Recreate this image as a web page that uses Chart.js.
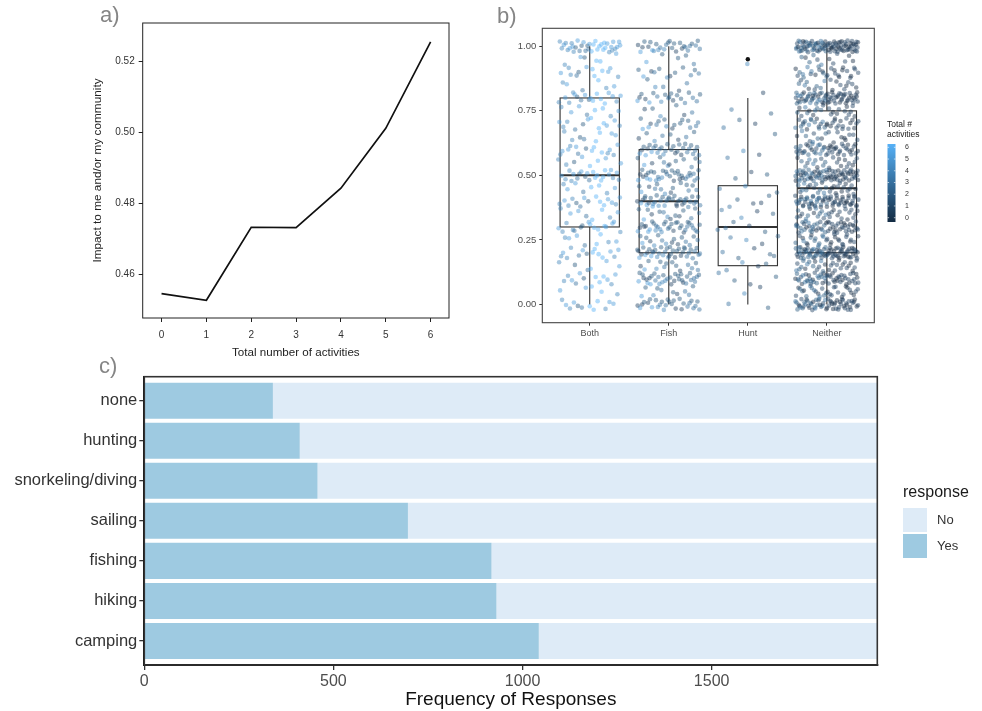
<!DOCTYPE html>
<html>
<head>
<meta charset="utf-8">
<script src="https://cdn.jsdelivr.net/npm/chart.js@4.4.1/dist/chart.umd.min.js"></script>
<style>
  html, body { margin: 0; padding: 0; background: #fff; }
  #wrap { position: relative; width: 982px; height: 711px; overflow: hidden; font-family: "Liberation Sans", Arial, sans-serif; }
  #wrap canvas { position: absolute; left: 0; top: 0; }
  .tag { position: absolute; font-size: 22px; line-height: 1; color: #858585; }
</style>
</head>
<body>
<div id="wrap">
  <canvas id="chartA" width="982" height="711"></canvas>
  <canvas id="chartB" width="982" height="711"></canvas>
  <canvas id="chartC" width="982" height="711"></canvas>
  <div class="tag" style="left:100px;top:4px">a)</div>
  <div class="tag" style="left:497px;top:5px">b)</div>
  <div class="tag" style="left:99px;top:355px">c)</div>
</div>
<script>
// ---- a) impacto vs número de actividades
const actCounts = [0, 1, 2, 3, 4, 5, 6];
const impactFit = [0.4546, 0.4527, 0.4733, 0.4732, 0.4843, 0.5012, 0.5256];
const impactTicks = [0.46, 0.48, 0.50, 0.52];

// ---- b) boxplots por grupo
const groups = ['Both', 'Fish', 'Hunt', 'Neither'];
const boxLow = [0, 0, 0, 0];
const boxQ1 = [0.30, 0.20, 0.15, 0.20];
const boxMed = [0.50, 0.40, 0.30, 0.45];
const boxQ3 = [0.80, 0.60, 0.46, 0.75];
const boxHigh = [1.00, 1.00, 0.80, 1.00];
const outliers = [[], [], [0.95], []];
const bTicks = [0, 0.25, 0.50, 0.75, 1.00];
// niveles de respuesta y cuántos puntos hay en cada uno (estimado a ojo)
const levels = [0, 0.05, 0.10, 0.15, 0.20, 0.25, 0.30, 0.35, 0.40, 0.45, 0.50,
                0.55, 0.60, 0.65, 0.70, 0.75, 0.80, 0.85, 0.90, 0.95, 1.00];
const countsBoth    = [12, 5, 12, 6, 14, 8, 16, 8, 15, 8, 22, 8, 14, 8, 12, 8, 18, 6, 12, 6, 36];
const countsFish    = [28, 10, 34, 14, 38, 16, 34, 14, 36, 14, 34, 12, 30, 8, 16, 6, 20, 5, 12, 5, 28];
const countsHunt    = [2, 2, 4, 4, 5, 4, 5, 4, 5, 3, 3, 1, 2, 1, 3, 2, 1, 0, 0, 1, 0];
const countsNeither = [62, 30, 55, 30, 80, 30, 55, 28, 65, 28, 75, 22, 50, 18, 35, 22, 70, 18, 28, 12, 95];
// total de actividades de los encuestados, repetido en ciclo
const actBoth    = [6, 5, 4, 5, 6, 3, 5, 4, 6, 2, 5, 4];
const actFish    = [2, 3, 1, 2, 4, 3, 2, 1, 3, 2, 5, 2];
const actHunt    = [2, 3, 1, 4, 2, 3, 1, 2];
const actNeither = [1, 0, 2, 1, 0, 1, 3, 0, 2, 1];
const legendTicks = [0, 1, 2, 3, 4, 5, 6];

// ---- c) frecuencia de respuestas
const activities = ['camping', 'hiking', 'fishing', 'sailing', 'snorkeling/diving', 'hunting', 'none'];
const yesCounts = [1043, 931, 918, 697, 458, 411, 340];
const noCounts  = [895, 1007, 1020, 1241, 1480, 1527, 1598];
const freqTicks = [0, 500, 1000, 1500];

const FONT = '"Liberation Sans", Arial, sans-serif';
Chart.defaults.font.family = FONT;
Chart.defaults.animation = false;
Chart.defaults.events = [];
Chart.defaults.plugins.legend.display = false;
Chart.defaults.plugins.tooltip.enabled = false;

const frame = {
  id: 'frame',
  afterDraw(chart, args, opts) {
    const { ctx, chartArea: a } = chart;
    ctx.save();
    ctx.strokeStyle = opts.color;
    ctx.lineWidth = opts.width;
    ctx.strokeRect(a.left, a.top, a.right - a.left, a.bottom - a.top);
    ctx.restore();
  }
};

function fixedTicks(list) {
  return scale => { scale.ticks = list.map(v => ({ value: v })); };
}

// ---------------- a)
new Chart(document.getElementById('chartA'), {
  type: 'line',
  data: {
    datasets: [{
      data: actCounts.map((n, i) => ({ x: n, y: impactFit[i] })),
      borderColor: '#111',
      borderWidth: 1.7,
      pointRadius: 0,
      tension: 0
    }]
  },
  options: {
    responsive: false,
    layout: { padding: { left: 91, top: 23, right: 533, bottom: 350.8 } },
    scales: {
      x: {
        type: 'linear', min: -0.42, max: 6.41,
        afterBuildTicks: fixedTicks(actCounts),
        afterFit: s => { s.height = 42.2; },
        grid: { drawOnChartArea: false, drawTicks: true, tickLength: 4, color: '#222' },
        border: { display: false },
        ticks: { color: '#333', font: { size: 10 }, padding: 7, maxRotation: 0 },
        title: { display: true, text: 'Total number of activities', color: '#222', font: { size: 11.6 }, padding: 0 }
      },
      y: {
        type: 'linear', min: 0.4477, max: 0.5309,
        afterBuildTicks: fixedTicks(impactTicks),
        afterFit: s => { s.width = 51.7; },
        grid: { drawOnChartArea: false, drawTicks: true, tickLength: 4, color: '#222' },
        border: { display: false },
        ticks: { color: '#333', font: { size: 10 }, padding: 4, callback: v => v.toFixed(2) },
        title: { display: true, text: 'Impact to me and/or my community', color: '#222', font: { size: 11.8 }, padding: 0 }
      }
    },
    plugins: { frame: { color: '#222', width: 1 } }
  },
  plugins: [frame]
});

// ---------------- b)
const low = [19, 43, 67], high = [86, 177, 247];
function actColor(a, alpha) {
  const t = a / 6;
  const c = low.map((l, k) => Math.round(l + (high[k] - l) * t));
  return 'rgba(' + c.join(',') + ',' + alpha + ')';
}

function halton(i, b) {
  let f = 1, r = 0;
  while (i > 0) { f /= b; r += f * (i % b); i = Math.floor(i / b); }
  return r;
}

// reparto determinista (Halton) de los marcadores alrededor de cada nivel leído
function spreadPoints(counts, gi, acts) {
  const pts = [];
  let n = 0;
  counts.forEach((c, j) => {
    for (let k = 0; k < c; k++) {
      const u = halton(n + 1 + gi * 37, 2);
      const v = halton(n + 1 + gi * 37, 3);
      pts.push({ x: gi + 1 + (u - 0.5) * 0.8, y: levels[j] + (v - 0.5) * 0.045, a: acts[n % acts.length] });
      n++;
    }
  });
  return pts;
}

const groupCounts = [countsBoth, countsFish, countsHunt, countsNeither];
const groupActs = [actBoth, actFish, actHunt, actNeither];

const boxes = {
  id: 'boxes',
  beforeDatasetsDraw(chart) {
    const { ctx, scales: { x, y } } = chart;
    ctx.save();
    ctx.strokeStyle = '#333';
    groups.forEach((g, i) => {
      const cx = x.getPixelForValue(i + 1);
      const hw = x.getPixelForValue(i + 1 + 0.375) - cx;
      const top = y.getPixelForValue(boxQ3[i]);
      const bot = y.getPixelForValue(boxQ1[i]);
      ctx.lineWidth = 1.1;
      ctx.beginPath();
      ctx.moveTo(cx, y.getPixelForValue(boxHigh[i]));
      ctx.lineTo(cx, top);
      ctx.moveTo(cx, bot);
      ctx.lineTo(cx, y.getPixelForValue(boxLow[i]));
      ctx.stroke();
      ctx.fillStyle = '#fff';
      ctx.fillRect(cx - hw, top, 2 * hw, bot - top);
      ctx.strokeRect(cx - hw, top, 2 * hw, bot - top);
      const my = y.getPixelForValue(boxMed[i]);
      ctx.lineWidth = 2;
      ctx.beginPath();
      ctx.moveTo(cx - hw, my);
      ctx.lineTo(cx + hw, my);
      ctx.stroke();
      ctx.fillStyle = '#111';
      outliers[i].forEach(o => {
        ctx.beginPath();
        ctx.arc(cx, y.getPixelForValue(o), 2.2, 0, Math.PI * 2);
        ctx.fill();
      });
    });
    ctx.restore();
  }
};

const colorBar = {
  id: 'colorBar',
  afterDraw(chart) {
    const { ctx } = chart;
    const x0 = 887.5, w = 8, yTop = 144, yBot = 222;
    const tickY = v => 147.3 + (6 - v) * (217.7 - 147.3) / 6;
    ctx.save();
    const grad = ctx.createLinearGradient(0, yTop, 0, yBot);
    grad.addColorStop(0, actColor(6, 1));
    grad.addColorStop(1, actColor(0, 1));
    ctx.fillStyle = grad;
    ctx.fillRect(x0, yTop, w, yBot - yTop);
    ctx.strokeStyle = 'rgba(255,255,255,0.8)';
    ctx.lineWidth = 0.8;
    ctx.fillStyle = '#333';
    ctx.font = '7px ' + FONT;
    ctx.textBaseline = 'middle';
    legendTicks.forEach(v => {
      const ty = tickY(v);
      ctx.beginPath();
      ctx.moveTo(x0, ty); ctx.lineTo(x0 + 1.6, ty);
      ctx.moveTo(x0 + w - 1.6, ty); ctx.lineTo(x0 + w, ty);
      ctx.stroke();
      ctx.fillText(String(v), 905, ty);
    });
    ctx.fillStyle = '#222';
    ctx.font = '8.5px ' + FONT;
    ctx.fillText('Total #', 887, 125);
    ctx.fillText('activities', 887, 135);
    ctx.restore();
  }
};

new Chart(document.getElementById('chartB'), {
  type: 'scatter',
  data: {
    datasets: groups.map((g, i) => ({
      data: spreadPoints(groupCounts[i], i, groupActs[i]),
      pointRadius: 2.3,
      borderWidth: 0,
      backgroundColor: ctx => actColor(ctx.raw ? ctx.raw.a : 0, 0.45)
    }))
  },
  options: {
    responsive: false,
    layout: { padding: { left: 512.3, top: 28.3, right: 107.7, bottom: 368.3 } },
    scales: {
      x: {
        type: 'linear', min: 0.4, max: 4.6,
        afterBuildTicks: fixedTicks([1, 2, 3, 4]),
        afterFit: s => { s.height = 20; },
        grid: { drawOnChartArea: false, drawTicks: true, tickLength: 3, color: '#333' },
        border: { display: false },
        ticks: { color: '#4d4d4d', font: { size: 9 }, padding: 2, maxRotation: 0, callback: v => groups[v - 1] }
      },
      y: {
        type: 'linear', min: -0.071, max: 1.07,
        afterBuildTicks: fixedTicks(bTicks),
        afterFit: s => { s.width = 30; },
        grid: { drawOnChartArea: false, drawTicks: true, tickLength: 3, color: '#333' },
        border: { display: false },
        ticks: { color: '#4d4d4d', font: { size: 9.5 }, padding: 3, callback: v => v.toFixed(2) }
      }
    },
    plugins: { frame: { color: '#444', width: 1.1 } }
  },
  plugins: [boxes, frame, colorBar]
});

// ---------------- c)
const yesColor = '#9ECAE1', noColor = '#DEEBF7';

const responseLegend = {
  id: 'responseLegend',
  afterDraw(chart) {
    const { ctx } = chart;
    ctx.save();
    ctx.textBaseline = 'middle';
    ctx.fillStyle = '#1a1a1a';
    ctx.font = '16px ' + FONT;
    ctx.fillText('response', 903, 493);
    ctx.fillStyle = noColor;
    ctx.fillRect(903, 508, 24, 24);
    ctx.fillStyle = yesColor;
    ctx.fillRect(903, 534, 24, 24);
    ctx.fillStyle = '#333';
    ctx.font = '13px ' + FONT;
    ctx.fillText('No', 937, 520);
    ctx.fillText('Yes', 937, 546);
    ctx.restore();
  }
};

new Chart(document.getElementById('chartC'), {
  type: 'bar',
  data: {
    datasets: [
      { label: 'Yes', data: activities.map((a, i) => ({ y: i, x: yesCounts[i] })), backgroundColor: yesColor },
      { label: 'No', data: activities.map((a, i) => ({ y: i, x: noCounts[i] })), backgroundColor: noColor }
    ]
  },
  options: {
    responsive: false,
    indexAxis: 'y',
    datasets: { bar: { barPercentage: 0.9, categoryPercentage: 1 } },
    layout: { padding: { left: 0, top: 376.7, right: 104.7, bottom: 0 } },
    scales: {
      x: {
        type: 'linear', stacked: true, min: 0, max: 1938,
        afterBuildTicks: fixedTicks(freqTicks),
        afterFit: s => { s.height = 46; },
        grid: { drawOnChartArea: false, drawTicks: true, tickLength: 5, color: '#333', lineWidth: 1.3 },
        border: { display: true, color: '#111', width: 2 },
        ticks: { color: '#4d4d4d', font: { size: 16 }, padding: 2, maxRotation: 0, callback: v => String(v) },
        title: { display: true, text: 'Frequency of Responses', color: '#111', font: { size: 19 }, padding: 0 }
      },
      y: {
        type: 'linear', stacked: true, min: -0.6, max: 6.6, offset: false,
        afterBuildTicks: fixedTicks(activities.map((a, i) => i)),
        afterFit: s => { s.width = 144.3; },
        grid: { offset: false, drawOnChartArea: false, drawTicks: true, tickLength: 5, color: '#333', lineWidth: 1.3 },
        border: { display: true, color: '#111', width: 2 },
        ticks: { color: '#333', font: { size: 16.5 }, padding: 2, callback: v => activities[v] }
      }
    },
    plugins: { frame: { color: '#333', width: 1.6 } }
  },
  plugins: [frame, responseLegend]
});
</script>
</body>
</html>
